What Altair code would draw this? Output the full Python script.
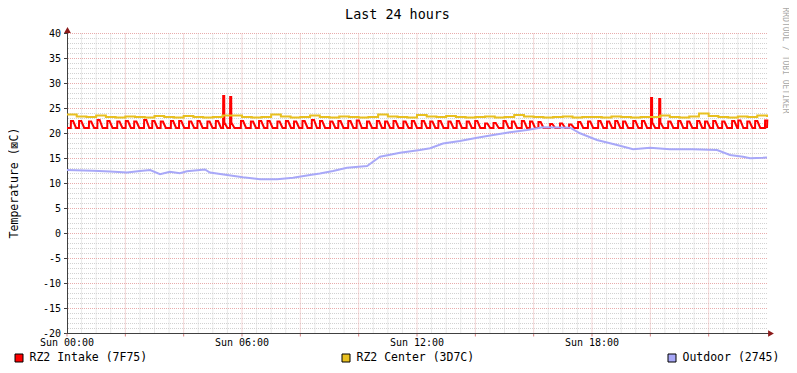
import altair as alt
import pandas as pd

# ---------------- data ----------------
TITLE = "Last 24 hours"
Y_TITLE = "Temperature (\u22a0C)"
WATERMARK = "RRDTOOL / TOBI OETIKER"

series_names = ["RZ2 Intake (7F75)", "RZ2 Center (3D7C)", "Outdoor (2745)"]
series_colors = ["#FF0000", "#E8C020", "#A8A8F8"]

x_label_hours = [0, 6, 12, 18]
x_labels = ["Sun 00:00", "Sun 06:00", "Sun 12:00", "Sun 18:00"]
y_ticks = [-20, -15, -10, -5, 0, 5, 10, 15, 20, 25, 30, 35, 40]

# RZ2 Intake: times (hours) of the heater-cycle peaks and their heights
red_peak_h = [0.13, 0.41, 0.75, 1.04, 1.38, 1.72, 2.01, 2.30, 2.64, 2.92,
              3.21, 3.56, 3.84, 4.18, 4.47, 4.81, 5.10, 5.35, 5.59, 5.96,
              6.30, 6.58, 6.87, 7.21, 7.50, 7.78, 8.07, 8.39, 8.67, 9.02,
              9.30, 9.64, 9.93, 10.28, 10.62, 10.90, 11.19, 11.53, 11.82, 12.16,
              12.45, 12.73, 13.07, 13.36, 13.70, 13.99, 14.33, 14.62, 14.96, 15.25,
              15.59, 15.87, 16.16, 16.56, 16.90, 17.21, 17.52, 17.86, 18.21, 18.51,
              18.79, 19.06, 19.41, 19.71, 20.02, 20.30, 20.61, 20.95, 21.26, 21.60,
              21.87, 22.15, 22.46, 22.80, 23.01, 23.32, 23.59, 23.93]
red_peak_v = [22.5, 22.5, 22.4, 22.7, 22.5, 22.4, 22.5, 22.4, 22.7, 22.5,
              22.4, 22.5, 22.5, 22.4, 22.5, 22.4, 22.5, 27.5, 27.3, 22.5,
              22.4, 22.5, 22.5, 22.4, 22.5, 22.4, 22.5, 22.7, 22.5, 22.4,
              22.5, 22.5, 22.6, 22.4, 22.5, 22.4, 22.5, 22.4, 22.5, 22.5,
              22.4, 22.5, 22.4, 22.5, 22.4, 22.5, 22.0, 22.1, 22.5, 22.4,
              22.5, 22.4, 22.3, 21.9, 22.0, 21.8, 22.3, 22.4, 22.5, 22.4,
              22.5, 22.4, 22.5, 22.5, 27.1, 26.9, 22.4, 22.5, 22.4, 22.5,
              22.4, 22.5, 22.4, 22.5, 22.6, 22.4, 22.5, 22.6]
red_after_spike = 22.2
red_trough = 21.1

# RZ2 Center: values every 20 minutes, 00:00 .. 24:00
yellow_v = [23.8, 23.4, 23.3, 23.6, 23.3, 23.2, 23.4, 23.3, 23.2, 23.5,
            23.3, 23.2, 23.5, 23.3, 23.2, 23.3, 23.6, 23.6, 23.3, 23.2,
            23.3, 23.8, 23.4, 23.2, 23.3, 23.6, 23.3, 23.2, 23.4, 23.3,
            23.2, 23.3, 23.8, 23.4, 23.3, 23.2, 23.7, 23.4, 23.3, 23.5,
            23.3, 23.2, 23.3, 23.4, 23.2, 23.3, 23.7, 23.4, 23.3, 23.2,
            23.3, 23.4, 23.2, 23.3, 23.3, 23.2, 23.4, 23.3, 23.2, 23.3,
            23.3, 23.6, 23.3, 23.2, 23.4, 24.0, 23.5, 23.3, 23.2, 23.4,
            23.3, 23.6, 23.3]

# Outdoor
blue_h = [0.0, 0.89, 1.47, 2.06, 2.50, 2.85, 3.19, 3.53, 3.87, 4.11,
          4.73, 4.90, 5.49, 6.03, 6.62, 7.20, 7.75, 8.33, 8.67, 9.12,
          9.60, 10.29, 10.49, 10.73, 11.42, 12.10, 12.45, 12.89, 13.47, 14.06,
          14.61, 15.19, 15.77, 16.32, 17.25, 17.59, 18.17, 18.86, 19.41, 19.99,
          20.67, 21.46, 22.29, 22.73, 23.18, 23.42, 23.86, 24.0]
blue_v = [12.7, 12.55, 12.4, 12.2, 12.5, 12.7, 11.85, 12.35, 12.05, 12.45,
          12.8, 12.2, 11.7, 11.25, 10.85, 10.85, 11.15, 11.7, 12.0, 12.5,
          13.15, 13.5, 14.35, 15.35, 16.15, 16.7, 17.05, 18.0, 18.5, 19.15,
          19.7, 20.25, 20.7, 21.25, 21.15, 20.05, 18.7, 17.7, 16.85, 17.15,
          16.85, 16.85, 16.7, 15.7, 15.35, 15.05, 15.15, 15.2]

# ---------------- tables ----------------
red_pts = [(0.0, red_trough)]
for i, (h, v) in enumerate(zip(red_peak_h, red_peak_v)):
    nxt = red_peak_h[i + 1] if i + 1 < len(red_peak_h) else 24.0
    spike = v > 25
    red_pts.append((h, red_trough))
    red_pts.append((h + 0.005, v))
    if spike:
        red_pts.append((h + 0.04, v))
        red_pts.append((h + 0.045, red_after_spike))
        end = h + 0.15
    else:
        red_pts.append((h + 0.08, v))
        end = h + 0.18
    if end < nxt:
        red_pts.append((end, red_trough))
red_pts.append((24.0, red_trough))
red_df = pd.DataFrame(red_pts, columns=["h", "v"])
red_df["o"] = range(len(red_df))

n_y = len(yellow_v)
yellow_df = pd.DataFrame({"h": [24.0 * i / (n_y - 1) for i in range(n_y)], "v": yellow_v})
blue_df = pd.DataFrame({"h": blue_h, "v": blue_v})

minor_h = pd.DataFrame({"y": [y for y in range(-20, 41) if y % 5 != 0]})
major_h = pd.DataFrame({"y": [y for y in range(-15, 41, 5)]})
minor_v = pd.DataFrame({"x": [k / 2 for k in range(1, 48) if k % 4 != 0]})
major_v = pd.DataFrame({"x": [float(k) for k in range(2, 24, 2)]})
xtick_df = pd.DataFrame({"x": [float(k) for k in range(0, 24, 2)]})
ylab_df = pd.DataFrame({"y": y_ticks, "t": [str(v) for v in y_ticks]})
xlab_df = pd.DataFrame({"x": x_label_hours, "t": x_labels})

FONT = "DejaVu Sans Mono"
XS = alt.Scale(domain=[0, 24], nice=False, zero=False)
YS = alt.Scale(domain=[-20, 40], nice=False, zero=False)
AXIS = "#404040"

one = alt.Data(values=[{"a": 1}])

GRID_MINOR = "#d2d2d2"
GRID_MAJOR = "#e8acac"

def X(f):
    return alt.X(f, scale=XS, axis=None)

def Y(f):
    return alt.Y(f, scale=YS, axis=None)

layers = []
layers.append(alt.Chart(minor_h).mark_rule(color=GRID_MINOR, strokeWidth=1, strokeDash=[1, 1])
              .encode(y=Y("y:Q")))
layers.append(alt.Chart(minor_v).mark_rule(color=GRID_MINOR, strokeWidth=1, strokeDash=[1, 1])
              .encode(x=X("x:Q")))
layers.append(alt.Chart(major_h).mark_rule(color=GRID_MAJOR, strokeWidth=1, strokeDash=[1, 1])
              .encode(y=Y("y:Q")))
layers.append(alt.Chart(major_v).mark_rule(color=GRID_MAJOR, strokeWidth=1, strokeDash=[1, 1])
              .encode(x=X("x:Q")))

# axes (drawn by hand)
layers.append(alt.Chart(ylab_df).mark_rule(color=AXIS, strokeWidth=1)
              .encode(y=Y("y:Q"), x=alt.value(-3), x2=alt.value(0)))
layers.append(alt.Chart(xtick_df).mark_rule(color="#d88080", strokeWidth=1)
              .encode(x=X("x:Q"), y=alt.value(300), y2=alt.value(303)))
layers.append(alt.Chart(ylab_df).mark_text(font=FONT, fontSize=10, color="#000000", align="right",
                                           baseline="middle")
              .encode(y=Y("y:Q"), x=alt.value(-6), text="t:N"))
layers.append(alt.Chart(xlab_df).mark_text(font=FONT, fontSize=10, color="#000000", align="center",
                                           baseline="middle")
              .encode(x=X("x:Q"), y=alt.value(309.5), text="t:N"))
layers.append(alt.Chart(one).mark_rule(color=AXIS, strokeWidth=1)
              .encode(x=alt.value(0.5), y=alt.value(-4), y2=alt.value(300)))
layers.append(alt.Chart(one).mark_rule(color=AXIS, strokeWidth=1)
              .encode(y=alt.value(300), x=alt.value(0), x2=alt.value(702)))

layers.append(alt.Chart(red_df).mark_line(color=series_colors[0], strokeWidth=2, interpolate="linear",
                                          strokeJoin="miter")
              .encode(x=X("h:Q"), y=Y("v:Q"), order="o:Q"))
layers.append(alt.Chart(yellow_df).mark_line(color=series_colors[1], strokeWidth=2, interpolate="step-after",
                                             strokeJoin="miter")
              .encode(x=X("h:Q"), y=Y("v:Q")))
layers.append(alt.Chart(blue_df).mark_line(color=series_colors[2], strokeWidth=2, interpolate="linear")
              .encode(x=X("h:Q"), y=Y("v:Q")))

ARROW = "#8B1A1A"
layers.append(alt.Chart(one).mark_point(shape="triangle-up", filled=True, color=ARROW, size=45, opacity=1)
              .encode(x=alt.value(0.5), y=alt.value(-3.5)))
layers.append(alt.Chart(one).mark_point(shape="triangle-right", filled=True, color=ARROW, size=45, opacity=1)
              .encode(x=alt.value(704), y=alt.value(300)))

# texts
layers.append(alt.Chart(one).mark_text(text=TITLE, font=FONT, fontSize=13.4, color="#000000",
                                       align="center", baseline="middle")
              .encode(x=alt.value(330.5), y=alt.value(-18.8)))
layers.append(alt.Chart(one).mark_text(text=Y_TITLE, font=FONT, fontSize=11.5, color="#000000",
                                       align="center", baseline="middle", angle=270)
              .encode(x=alt.value(-52), y=alt.value(149.5)))
layers.append(alt.Chart(one).mark_text(text=WATERMARK, font=FONT, fontSize=8, color="#a8a8a8",
                                       align="center", baseline="middle", angle=90)
              .encode(x=alt.value(717.5), y=alt.value(27)))

# legend
legend_box_x = [-52, 275, 601]
for name, col, bx in zip(series_names, series_colors, legend_box_x):
    layers.append(alt.Chart(one).mark_rect(color=col, stroke="#000000", strokeWidth=1)
                  .encode(x=alt.value(bx), x2=alt.value(bx + 8), y=alt.value(320.5), y2=alt.value(328.5)))
    layers.append(alt.Chart(one).mark_text(text=name, font=FONT, fontSize=11.5, color="#000000",
                                           align="left", baseline="middle")
                  .encode(x=alt.value(bx + 14.5), y=alt.value(324.5)))

chart = alt.layer(*layers).properties(
    width=700, height=300,
    padding={"left": 59, "top": 25.5, "right": 22, "bottom": 31.5},
    autosize=alt.AutoSizeParams(type="none"),
    background="#ffffff",
).configure_view(stroke=None)

chart.save("out.html", embed_options={"renderer": "svg", "actions": False})
